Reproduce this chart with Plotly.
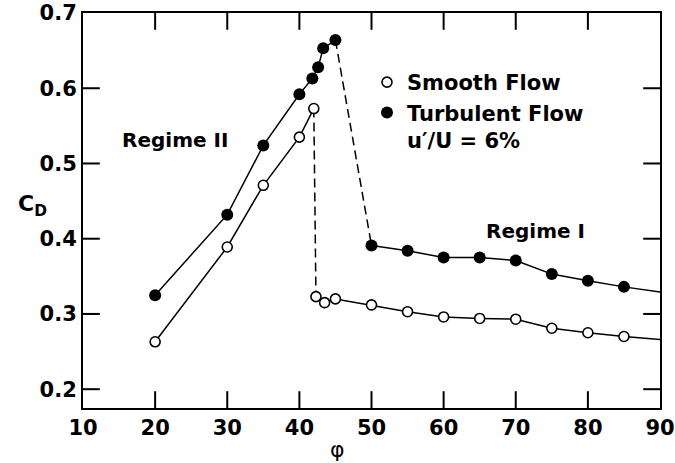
import plotly.graph_objects as go

# ---- data ----
turb_II_x = [20, 30, 35, 40, 41.8, 42.6, 43.3, 45]
turb_II_y = [0.325, 0.432, 0.524, 0.592, 0.613, 0.628, 0.653, 0.664]
turb_I_x = [50, 55, 60, 65, 70, 75, 80, 85]
turb_I_y = [0.391, 0.384, 0.375, 0.375, 0.371, 0.353, 0.344, 0.336]
turb_tail_x = [85, 90]
turb_tail_y = [0.336, 0.329]

smooth_II_x = [20, 30, 35, 40, 42]
smooth_II_y = [0.263, 0.389, 0.471, 0.535, 0.573]
smooth_I_x = [42.3, 43.5, 45, 50, 55, 60, 65, 70, 75, 80, 85]
smooth_I_y = [0.323, 0.315, 0.320, 0.312, 0.303, 0.296, 0.294, 0.293, 0.281, 0.275, 0.270]
smooth_tail_x = [85, 90]
smooth_tail_y = [0.270, 0.266]

x_ticks = [10, 20, 30, 40, 50, 60, 70, 80, 90]
y_ticks = [0.2, 0.3, 0.4, 0.5, 0.6, 0.7]
x_range = [10, 90]
y_range = [0.175, 0.7]

FONT = "DejaVu Sans"
LW = 1.5
TICKLEN = 14           # px
W, H = 675, 463
M = dict(l=83, r=15, t=13, b=55)
PW, PH = W - M["l"] - M["r"], H - M["t"] - M["b"]

fig = go.Figure()

def line(x, y, dash="solid", width=LW):
    fig.add_trace(go.Scatter(x=x, y=y, mode="lines", showlegend=False, hoverinfo="skip",
                             line=dict(color="black", width=width, dash=dash)))

# solid fairing lines
line(smooth_II_x, smooth_II_y)
line(smooth_I_x, smooth_I_y)
line(smooth_tail_x, smooth_tail_y)
line(turb_II_x, turb_II_y)
line(turb_I_x, turb_I_y)
line(turb_tail_x, turb_tail_y)
# dashed jumps between regimes
line([smooth_II_x[-1], smooth_I_x[0]], [smooth_II_y[-1], smooth_I_y[0]], dash="9px,5px")
line([turb_II_x[-1], turb_I_x[0]], [turb_II_y[-1], turb_I_y[0]], dash="9px,5px")

# inward tick marks on all four sides, drawn as line markers centred half a tick inside
hx = 0.5 * TICKLEN * (x_range[1] - x_range[0]) / PW
hy = 0.5 * TICKLEN * (y_range[1] - y_range[0]) / PH
vx, vy, ex, ey = [], [], [], []
for v in x_ticks[1:-1]:
    vx += [v, v]
    vy += [y_range[0] + hy, y_range[1] - hy]
for v in y_ticks[:-1]:
    ex += [x_range[0] + hx, x_range[1] - hx]
    ey += [v, v]
tick_marker = dict(size=TICKLEN, color="black", line=dict(color="black", width=2))
fig.add_trace(go.Scatter(x=vx, y=vy, mode="markers", showlegend=False, hoverinfo="skip",
                         marker=dict(symbol="line-ns", **tick_marker)))
fig.add_trace(go.Scatter(x=ex, y=ey, mode="markers", showlegend=False, hoverinfo="skip",
                         marker=dict(symbol="line-ew", **tick_marker)))

# data markers
fig.add_trace(go.Scatter(x=smooth_II_x + smooth_I_x, y=smooth_II_y + smooth_I_y, mode="markers",
                         name="Smooth Flow",
                         marker=dict(symbol="circle", size=10, color="white",
                                     line=dict(color="black", width=1.6))))
fig.add_trace(go.Scatter(x=turb_II_x + turb_I_x, y=turb_II_y + turb_I_y, mode="markers",
                         name="Turbulent Flow<br>u\u2032/U = 6%",
                         marker=dict(symbol="circle", size=12, color="black",
                                     line=dict(color="black", width=0))))

tickfont = dict(family=FONT, size=21, color="black", weight="bold")
axis_common = dict(
    showline=True, linecolor="black", linewidth=2, mirror=True,
    ticks="", showgrid=False, zeroline=False, automargin=False, tickfont=tickfont,
)

fig.update_layout(
    xaxis=dict(range=x_range, tickmode="array", tickvals=x_ticks,
               ticktext=[str(v) for v in x_ticks], **axis_common),
    yaxis=dict(range=y_range, tickmode="array", tickvals=y_ticks,
               ticktext=[f"{v:.1f}" for v in y_ticks], **axis_common),
)

fig.add_annotation(x=22.8, y=0.531, xref="x", yref="y", text="Regime II", showarrow=False,
                   font=dict(family=FONT, size=20, color="black", weight="bold"))
fig.add_annotation(x=72.7, y=0.410, xref="x", yref="y", text="Regime I", showarrow=False,
                   font=dict(family=FONT, size=20, color="black", weight="bold"))
fig.add_annotation(x=(32 - 83) / PW, y=(408 - 205) / PH, xref="paper", yref="paper",
                   xanchor="center", yanchor="middle", text="C<sub>D</sub>",
                   showarrow=False, font=dict(family=FONT, size=22, color="black", weight="bold"))
fig.add_annotation(x=(337 - 83) / PW, y=(408 - 450) / PH, xref="paper", yref="paper",
                   xanchor="center", yanchor="middle", text="\u03c6",
                   showarrow=False, font=dict(family=FONT, size=22, color="black"))

fig.update_layout(
    width=W, height=H,
    margin=dict(**M, autoexpand=False),
    paper_bgcolor="white", plot_bgcolor="white",
    showlegend=True,
    legend=dict(x=(367 - 83) / PW, y=(408 - 62) / PH, xanchor="left", yanchor="top",
                bgcolor="rgba(0,0,0,0)", borderwidth=0, valign="top", tracegroupgap=0,
                font=dict(family=FONT, size=21, color="black", weight="bold")),
)

fig.write_html("out.html")
